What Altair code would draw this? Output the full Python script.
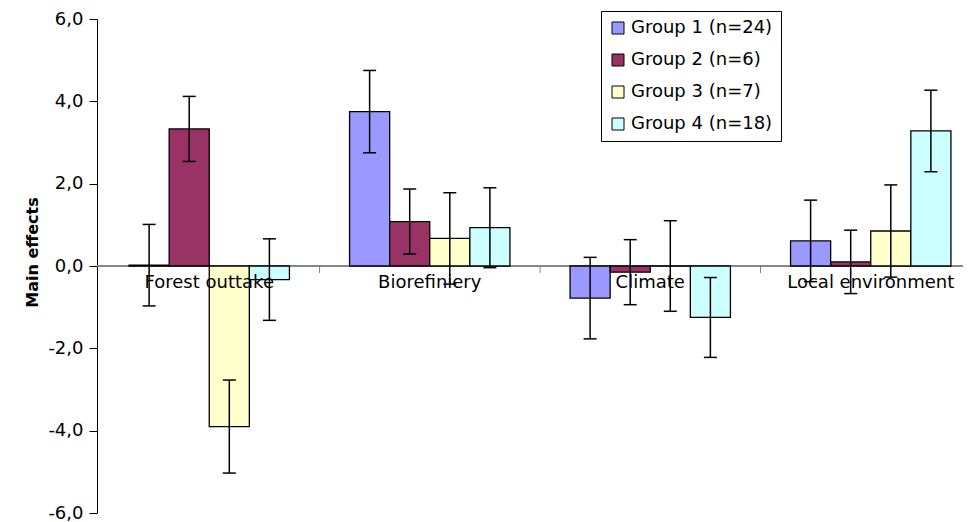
import altair as alt
import pandas as pd

categories = ["Forest outtake", "Biorefiniery", "Climate", "Local environment"]
groups = ["Group 1 (n=24)", "Group 2 (n=6)", "Group 3 (n=7)", "Group 4 (n=18)"]
colors = ["#9999FF", "#993366", "#FFFFCC", "#CCFFFF"]

g1 = [0.02, 3.75, -0.78, 0.61]
g1_err = [0.99, 1.00, 0.99, 0.99]
g2 = [3.33, 1.08, -0.15, 0.10]
g2_err = [0.79, 0.79, 0.79, 0.77]
g3 = [-3.90, 0.67, 0.00, 0.85]
g3_err = [1.13, 1.11, 1.10, 1.12]
g4 = [-0.33, 0.93, -1.25, 3.28]
g4_err = [0.99, 0.97, 0.97, 0.99]

values = [g1, g2, g3, g4]
errors = [g1_err, g2_err, g3_err, g4_err]

rows = []
for gi, g in enumerate(groups):
    for ci, c in enumerate(categories):
        v = values[gi][ci]
        e = errors[gi][ci]
        rows.append({"cat": c, "group": g, "value": v, "lo": v - e, "hi": v + e})
df = pd.DataFrame(rows)
cat_df = pd.DataFrame({"cat": categories})
bound_df = pd.DataFrame({"cat": categories[1:]})

FONT = "DejaVu Sans"

xscale = alt.Scale(domain=categories, range=[2, 884], paddingInner=0.2727, paddingOuter=0.1364)
yscale = alt.Scale(domain=[-6, 6], nice=False, zero=False)
oscale = alt.Scale(domain=groups, paddingInner=0, paddingOuter=0)

X = alt.X("cat:N", scale=xscale, axis=None, title=None)
XO = alt.XOffset("group:N", scale=oscale)

yaxis = alt.Axis(
    values=[-6, -4, -2, 0, 2, 4, 6],
    grid=False,
    domainColor="black",
    tickColor="black",
    tickSize=8,
    labelPadding=6,
    labelFont=FONT,
    labelFontSize=18,
    labelColor="black",
    labelExpr="(datum.value < 0 ? '-' : '') + abs(datum.value) + ',0'",
    title="Main effects",
    titleFont=FONT,
    titleFontSize=16,
    titleFontWeight="bold",
    titleColor="black",
    titleAngle=270,
    titleAlign="center",
    titleBaseline="middle",
    titleX=-65,
    titleY=233,
)

zero_line = alt.Chart(cat_df).mark_rule(color="#808080", strokeWidth=1).encode(
    y=alt.datum(0, scale=yscale, axis=yaxis)
)

bars = alt.Chart(df).mark_bar(stroke="black", strokeWidth=1.3).encode(
    x=X,
    xOffset=XO,
    y=alt.Y("value:Q", scale=yscale, axis=yaxis),
    y2=alt.datum(0),
    color=alt.Color(
        "group:N",
        scale=alt.Scale(domain=groups, range=colors),
        legend=alt.Legend(
            title=None,
            orient="none",
            legendX=504,
            legendY=-8,
            strokeColor="black",
            fillColor="white",
            padding=8,
            rowPadding=14,
            symbolType="square",
            symbolSize=144,
            symbolStrokeColor="black",
            symbolStrokeWidth=1,
            symbolOpacity=1,
            labelFont=FONT,
            labelFontSize=18,
            labelColor="black",
            labelOffset=4,
            labelLimit=300,
        ),
    ),
)

bounds = alt.Chart(bound_df).mark_rule(color="#808080", strokeWidth=1, xOffset=-30).encode(
    x=alt.X("cat:N", scale=xscale, axis=None, bandPosition=0),
    y=alt.datum(0),
    y2=alt.datum(-0.17),
)

labels = alt.Chart(cat_df).mark_text(
    font=FONT, fontSize=18, color="black", baseline="middle", dy=17
).encode(x=X, y=alt.datum(0), text="cat:N")

err_rule = alt.Chart(df).mark_rule(color="black", strokeWidth=1.5).encode(
    x=X, xOffset=XO, y="lo:Q", y2="hi:Q"
)
err_lo = alt.Chart(df).mark_tick(color="black", thickness=1.5, size=13, orient="horizontal", opacity=1).encode(
    x=X, xOffset=XO, y="lo:Q"
)
err_hi = alt.Chart(df).mark_tick(color="black", thickness=1.5, size=13, orient="horizontal", opacity=1).encode(
    x=X, xOffset=XO, y="hi:Q"
)

chart = alt.layer(zero_line, bars, bounds, labels, err_rule, err_lo, err_hi).properties(
    width=866,
    height=494,
    autosize=alt.AutoSizeParams(type="none"),
    padding={"left": 89, "top": 11, "right": 0, "bottom": 10},
    background="white",
).configure_view(stroke=None).configure_legend(strokeWidth=1)

chart.save("out.html", embed_options={"renderer": "svg", "actions": False})
